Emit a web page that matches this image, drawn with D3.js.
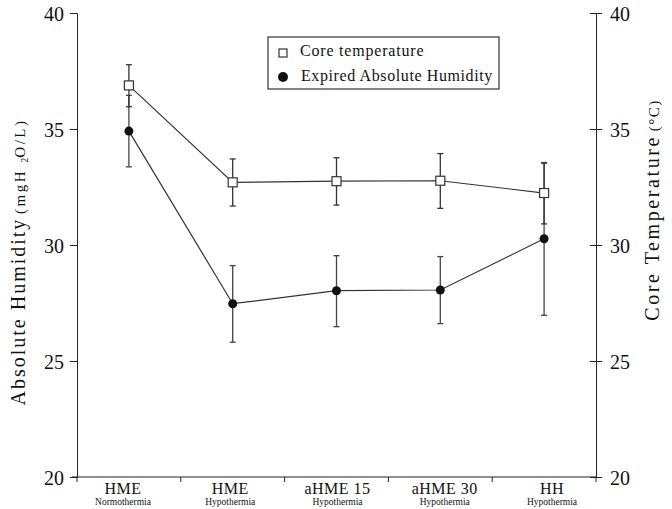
<!DOCTYPE html>
<html>
<head>
<meta charset="utf-8">
<script src="https://cdn.jsdelivr.net/npm/d3@7"></script>
<style>
    body { margin: 0; background: #fff; }
    text { font-family: "Liberation Serif", "DejaVu Serif", serif; fill: #111; }
</style>
</head>
<body>
<div id="chart"></div>
<script>
// categories and sub labels on the x axis
var categories = ["HME", "HME", "aHME 15", "aHME 30", "HH"];
var subLabels = ["Normothermia", "Hypothermia", "Hypothermia", "Hypothermia", "Hypothermia"];

// core temperature (°C), mean and error bar ends
var coreTemp = [36.88, 32.70, 32.75, 32.77, 32.24];
var coreHigh = [37.77, 33.71, 33.76, 33.94, 33.53];
var coreLow = [35.96, 31.68, 31.72, 31.58, 30.91];

// expired absolute humidity (mgH2O/L), mean and error bar ends
var humidity = [34.91, 27.47, 28.03, 28.06, 30.27];
var humHigh = [36.45, 29.11, 29.54, 29.50, 33.55];
var humLow = [33.37, 25.81, 26.48, 26.61, 26.97];

var yTicks = [20, 25, 30, 35, 40];

var W = 672, H = 509;
var margin = {top: 13, right: 76, bottom: 32, left: 77},
    width = W - margin.left - margin.right,
    height = H - margin.top - margin.bottom;

var svg = d3.select("#chart")
    .append("svg")
    .attr("width", W)
    .attr("height", H)
    .append("g")
    .attr("transform", "translate(" + margin.left + "," + margin.top + ")");

var x = d3.scaleBand()
    .domain(d3.range(categories.length))
    .range([0, width]);

// the printed labels sit a little wider apart than the points
var xLabel = d3.scalePoint()
    .domain(d3.range(categories.length))
    .range([123 - margin.left, 552 - margin.left]);

var yL = d3.scaleLinear().domain([20, 40]).range([height, 0]);
var yR = d3.scaleLinear().domain([20, 40]).range([height, 0]);

var cx = function (i) { return x(i) + x.bandwidth() / 2; };

// left axis
var left = svg.append("g")
    .call(d3.axisLeft(yL).tickValues(yTicks).tickSize(7).tickPadding(6));
left.selectAll("text").style("font-size", "20px").attr("dy", "0.35em");

// right axis, ticks cross the line
var right = svg.append("g")
    .attr("transform", "translate(" + width + ",0)")
    .call(d3.axisRight(yR).tickValues(yTicks).tickSize(6).tickPadding(8));
right.selectAll(".tick line").attr("x1", -6);
right.selectAll("text").style("font-size", "20px").attr("dy", "0.35em");

// bottom axis with ticks at category boundaries
var bottom = svg.append("g")
    .attr("transform", "translate(0," + height + ")");
bottom.append("line")
    .attr("x1", -5).attr("x2", width)
    .attr("stroke", "#222");
bottom.selectAll(".btick")
    .data(d3.range(categories.length + 1))
    .enter().append("line")
    .attr("x1", function (d) { return d === categories.length ? width : x(d); })
    .attr("x2", function (d) { return d === categories.length ? width : x(d); })
    .attr("y1", 0).attr("y2", 5)
    .attr("stroke", "#222");
bottom.selectAll(".cat")
    .data(categories)
    .enter().append("text")
    .attr("x", function (d, i) { return xLabel(i); })
    .attr("y", 17)
    .attr("text-anchor", "middle")
    .style("font-size", "16px")
    .style("letter-spacing", "0.5px")
    .text(function (d) { return d; });
bottom.selectAll(".sub")
    .data(subLabels)
    .enter().append("text")
    .attr("x", function (d, i) { return xLabel(i); })
    .attr("y", 28)
    .attr("text-anchor", "middle")
    .style("font-size", "9.5px")
    .text(function (d) { return d; });

svg.selectAll(".domain").attr("stroke", "#222");
svg.selectAll(".tick line").attr("stroke", "#222");

// axis titles
var tl = svg.append("text")
    .attr("transform", "translate(" + (25 - margin.left) + "," + (262 - margin.top) + ") rotate(-90)")
    .attr("text-anchor", "middle");
tl.append("tspan").style("font-size", "20px").style("letter-spacing", "2px").text("Absolute Humidity");
tl.append("tspan").style("font-size", "15px").text(" ");
tl.append("tspan").style("font-size", "15px").style("letter-spacing", "2.5px").text("(mgH ");
tl.append("tspan").style("font-size", "10px").attr("dy", 3).text("2");
tl.append("tspan").style("font-size", "15px").style("letter-spacing", "2.5px").attr("dy", -3).text("O/L)");

var tr = svg.append("text")
    .attr("transform", "translate(" + (659 - margin.left) + "," + (210 - margin.top) + ") rotate(-90)")
    .attr("text-anchor", "middle");
tr.append("tspan").style("font-size", "20px").style("letter-spacing", "2.6px").text("Core Temperature");
tr.append("tspan").style("font-size", "15px").text(" ");
tr.append("tspan").style("font-size", "15px").style("letter-spacing", "1.5px").text("(°C)");

// error bars
function errorBars(high, low, scale, color) {
    var g = svg.append("g").attr("stroke", color).attr("stroke-width", 1.3);
    g.selectAll(".eb").data(high).enter().append("line")
        .attr("x1", function (d, i) { return cx(i); })
        .attr("x2", function (d, i) { return cx(i); })
        .attr("y1", function (d) { return scale(d); })
        .attr("y2", function (d, i) { return scale(low[i]); });
    var caps = high.map(function (d, i) { return [i, d]; })
        .concat(low.map(function (d, i) { return [i, d]; }));
    g.selectAll(".cap").data(caps).enter().append("line")
        .attr("x1", function (d) { return cx(d[0]) - 3; })
        .attr("x2", function (d) { return cx(d[0]) + 3; })
        .attr("y1", function (d) { return scale(d[1]); })
        .attr("y2", function (d) { return scale(d[1]); });
}
errorBars(humHigh, humLow, yL, "#444");
errorBars(coreHigh, coreLow, yR, "#333");

// lines
var line = function (scale) {
    return d3.line()
        .x(function (d, i) { return cx(i); })
        .y(function (d) { return scale(d); });
};
svg.append("path").datum(humidity)
    .attr("d", line(yL))
    .attr("fill", "none").attr("stroke", "#333").attr("stroke-width", 1.2);
svg.append("path").datum(coreTemp)
    .attr("d", line(yR))
    .attr("fill", "none").attr("stroke", "#333").attr("stroke-width", 1.2);

// markers
svg.selectAll(".hum").data(humidity).enter().append("circle")
    .attr("cx", function (d, i) { return cx(i); })
    .attr("cy", function (d) { return yL(d); })
    .attr("r", 4.5)
    .attr("fill", "#111");
svg.selectAll(".core").data(coreTemp).enter().append("rect")
    .attr("x", function (d, i) { return cx(i) - 4.5; })
    .attr("y", function (d) { return yR(d) - 4.5; })
    .attr("width", 9).attr("height", 9)
    .attr("fill", "#fff").attr("stroke", "#333").attr("stroke-width", 1.2);

// legend
var lg = svg.append("g").attr("transform", "translate(" + (268 - margin.left) + "," + (37 - margin.top) + ")");
lg.append("rect").attr("width", 231).attr("height", 52)
    .attr("fill", "#fff").attr("stroke", "#333").attr("stroke-width", 1.2);
lg.append("rect").attr("x", 11).attr("y", 12).attr("width", 8).attr("height", 8)
    .attr("fill", "#fff").attr("stroke", "#333").attr("stroke-width", 1.2);
lg.append("text").attr("x", 32).attr("y", 19).style("font-size", "16px")
    .style("letter-spacing", "0.8px").text("Core temperature");
lg.append("circle").attr("cx", 15).attr("cy", 40).attr("r", 5).attr("fill", "#111");
lg.append("text").attr("x", 33).attr("y", 44).style("font-size", "16px")
    .style("letter-spacing", "0.6px").text("Expired Absolute Humidity");
</script>
</body>
</html>
